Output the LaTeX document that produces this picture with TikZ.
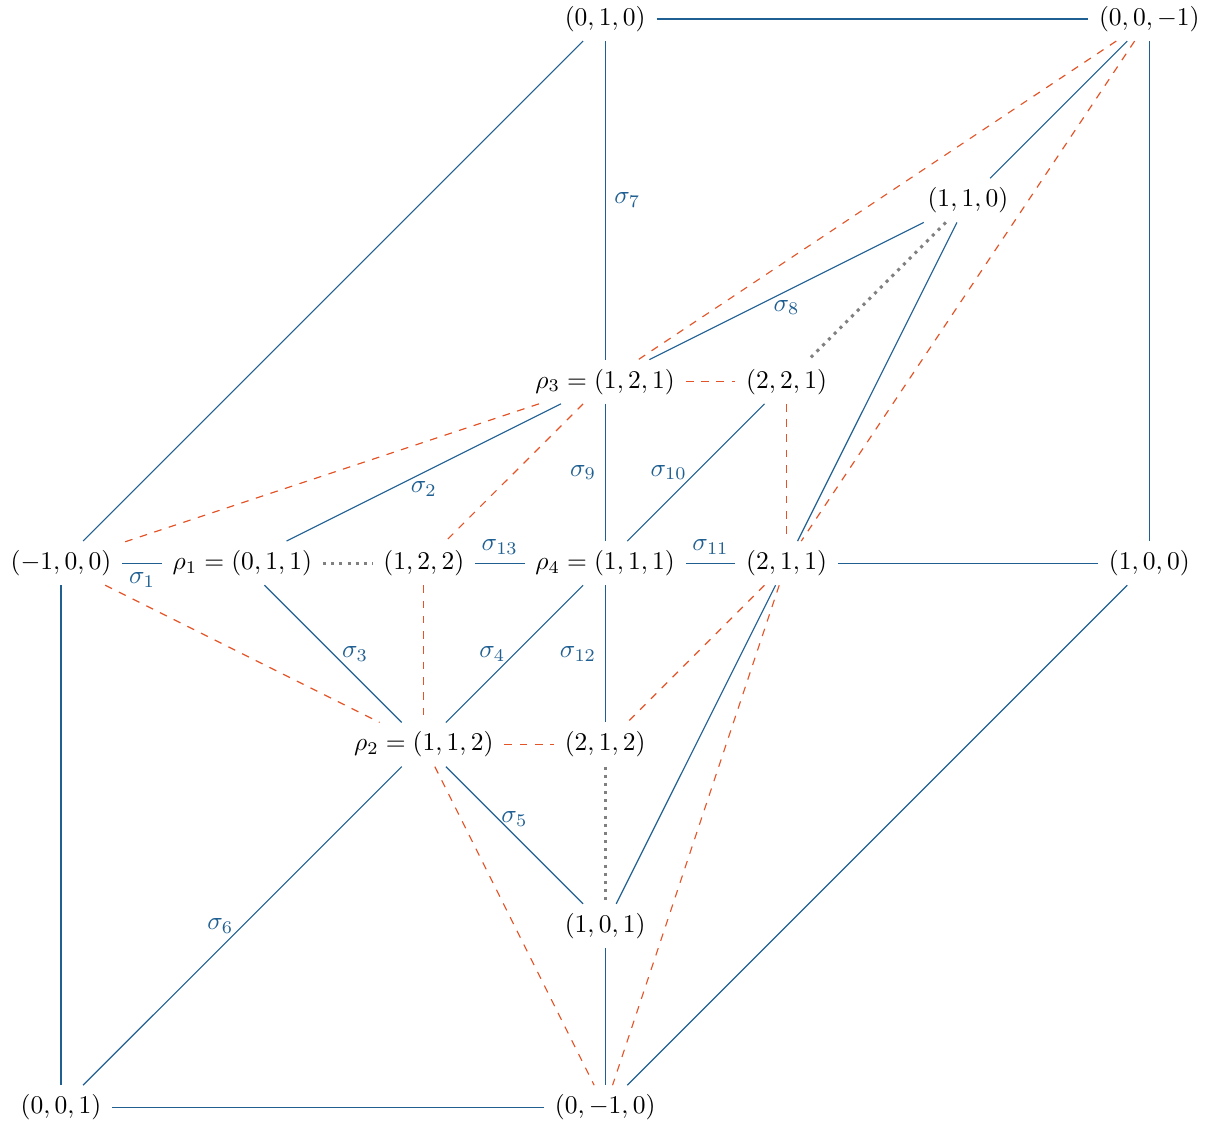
\documentclass[tikz,border=0pt]{standalone}
\definecolor{eblue}{RGB}{31,95,145}
\definecolor{eorange}{RGB}{228,83,38}
\tikzset{
 v/.style={inner xsep=1ex, inner ysep=0.85ex, outer sep=0pt},
 sol/.style={eblue, line width=0.45pt},
 dsh/.style={eorange, dashed, line width=0.45pt},
 dtd/.style={gray, line width=1.2pt, dotted},
 lab/.style={text=eblue, midway},
}
\begin{document}
\begin{tikzpicture}[x=2.5cm,y=2.5cm]
\useasboundingbox (-0.841cm,-0.229cm) rectangle (15.905cm,15.262cm);
\node[v] (a) at (3,6) {$(0,1,0)$};
\node[v] (b) at (6,6) {$(0,0,-1)$};
\node[v] (c) at (5,5) {$(1,1,0)$};
\node[v] (r3) at (3,4) {$\rho_3=(1,2,1)$};
\node[v] (d) at (4,4) {$(2,2,1)$};
\node[v] (e) at (0,3) {$(-1,0,0)$};
\node[v] (r1) at (1,3) {$\rho_1=(0,1,1)$};
\node[v] (f) at (2,3) {$(1,2,2)$};
\node[v] (r4) at (3,3) {$\rho_4=(1,1,1)$};
\node[v] (g) at (4,3) {$(2,1,1)$};
\node[v] (h) at (6,3) {$(1,0,0)$};
\node[v] (r2) at (2,2) {$\rho_2=(1,1,2)$};
\node[v] (i) at (3,2) {$(2,1,2)$};
\node[v] (j) at (3,1) {$(1,0,1)$};
\node[v] (k) at (0,0) {$(0,0,1)$};
\node[v] (l) at (3,0) {$(0,-1,0)$};

\draw[sol] (a) -- (b);
\draw[sol] (a) -- (e);
\draw[sol] (a) -- node[lab,right]{$\sigma_7$} (r3);
\draw[sol] (b) -- (c);
\draw[sol] (b) -- (h);
\draw[dsh] (b) -- (r3);
\draw[dsh] (b) -- (g);
\draw[sol] (c) -- node[lab,below]{$\sigma_8$} (r3);
\draw[sol] (c) -- (g);
\draw[dtd] (c) -- (d);
\draw[dsh] (r3) -- (d);
\draw[dsh] (r3) -- (e);
\draw[sol] (r3) -- node[lab,below]{$\sigma_2$} (r1);
\draw[dsh] (r3) -- (f);
\draw[sol] (r3) -- node[lab,left]{$\sigma_9$} (r4);
\draw[sol] (d) -- node[lab,left]{$\sigma_{10}$} (r4);
\draw[dsh] (d) -- (g);
\draw[sol] (e) -- node[lab,below]{$\sigma_1$} (r1);
\draw[sol] (e) -- (k);
\draw[dsh] (e) -- (r2);
\draw[dtd] (r1) -- (f);
\draw[sol] (r1) -- node[lab,right]{$\sigma_3$} (r2);
\draw[sol] (f) -- node[lab,above]{$\sigma_{13}$} (r4);
\draw[dsh] (f) -- (r2);
\draw[sol] (r4) -- node[lab,above]{$\sigma_{11}$} (g);
\draw[sol] (r4) -- node[lab,left]{$\sigma_4$} (r2);
\draw[sol] (r4) -- node[lab,left]{$\sigma_{12}$} (i);
\draw[sol] (g) -- (h);
\draw[dsh] (g) -- (i);
\draw[sol] (g) -- (j);
\draw[dsh] (g) -- (l);
\draw[sol] (h) -- (l);
\draw[dsh] (r2) -- (i);
\draw[sol] (r2) -- node[lab,above]{$\sigma_5$} (j);
\draw[sol] (r2) -- node[lab,left]{$\sigma_6$} (k);
\draw[dsh] (r2) -- (l);
\draw[dtd] (i) -- (j);
\draw[sol] (j) -- (l);
\draw[sol] (k) -- (l);
\end{tikzpicture}
\end{document}
